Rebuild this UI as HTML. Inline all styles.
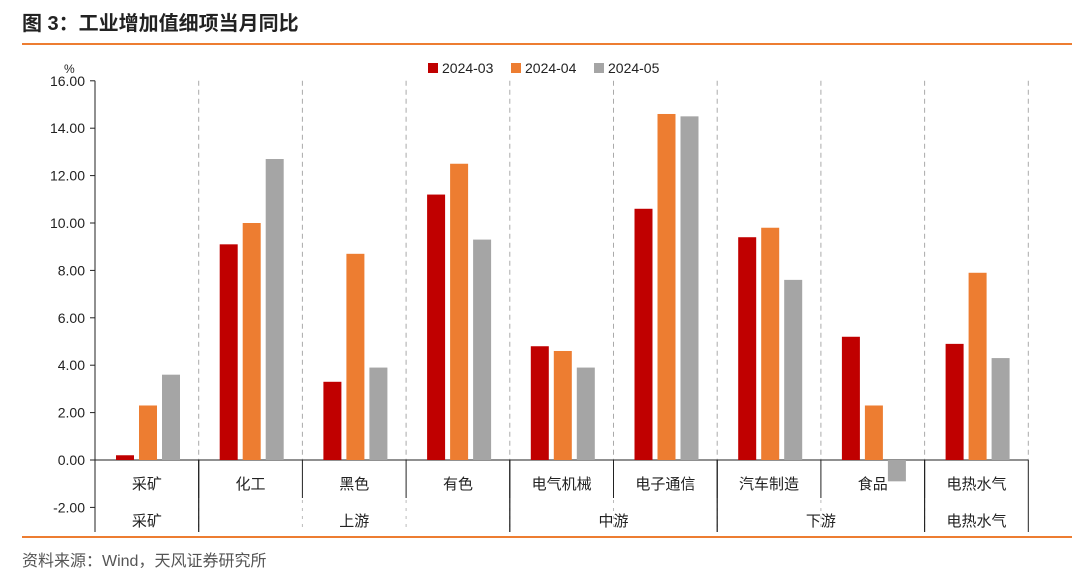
<!DOCTYPE html>
<html><head><meta charset="utf-8"><style>
body{margin:0;background:#fff;width:1080px;height:575px;overflow:hidden;font-family:"Liberation Sans","Noto Sans CJK SC",sans-serif}
</style></head><body>
<svg width="1080" height="575" style="position:absolute;left:0;top:0">
<text x="22" y="30" font-size="20" font-weight="bold" fill="#222">图 3：工业增加值细项当月同比</text>
<line x1="22" y1="44" x2="1072" y2="44" stroke="#ED7D31" stroke-width="2"/>
<line x1="22" y1="537" x2="1072" y2="537" stroke="#ED7D31" stroke-width="2"/>
<text x="22" y="566" font-size="16" fill="#555">资料来源：Wind，天风证券研究所</text>
<g id="plot"></g>
</svg>
<script>
const categories=["采矿","化工","黑色","有色","电气机械","电子通信","汽车制造","食品","电热水气"];
const groups=[["采矿",0,1],["上游",1,4],["中游",4,6],["下游",6,8],["电热水气",8,9]];
const seriesNames=["2024-03","2024-04","2024-05"];
const s2403=[0.2,9.1,3.3,11.2,4.8,10.6,9.4,5.2,4.9];
const s2404=[2.3,10.0,8.7,12.5,4.6,14.6,9.8,2.3,7.9];
const s2405=[3.6,12.7,3.9,9.3,3.9,14.5,7.6,-0.9,4.3];
const yTicks=[-2,0,2,4,6,8,10,12,14,16];
const colors=["#C00000","#ED7D31","#A5A5A5"];
const ns="http://www.w3.org/2000/svg",g=document.getElementById('plot');
const X0=95,GW=103.7,Y0=460,PX=23.7;
const y=v=>Y0-v*PX, xg=i=>X0+i*GW;
function el(t,a,txt){const e=document.createElementNS(ns,t);for(const k in a)e.setAttribute(k,a[k]);if(txt!=null)e.textContent=txt;g.appendChild(e);return e;}
el('line',{x1:X0,y1:y(16),x2:X0,y2:532,stroke:'#222','stroke-width':1});
yTicks.forEach(t=>{el('line',{x1:X0-5,y1:y(t),x2:X0,y2:y(t),stroke:'#222'});
 const e=el('text',{x:X0-10,y:y(t)+5,'font-size':14,'text-anchor':'end',fill:'#222'},t.toFixed(2));
 });
el('text',{x:64,y:73,'font-size':12,fill:'#222'},'%');
for(let i=1;i<=categories.length;i++){
 el('line',{x1:xg(i),y1:y(16),x2:xg(i),y2:460,stroke:'#aaa','stroke-dasharray':'5,4'});
}
el('line',{x1:X0,y1:Y0,x2:xg(9),y2:Y0,stroke:'#222'});
const series=[s2403,s2404,s2405];
series.forEach((s,k)=>s.forEach((v,i)=>{
 const x=xg(i)+21+k*23, top=Math.min(y(v),Y0), h=Math.abs(y(v)-Y0);
 const r=el('rect',{x:x,y:top,width:18,height:h,fill:colors[k]});
 
 
}));
categories.forEach((c,i)=>{
 const e=el('text',{x:xg(i)+GW/2,y:489,'font-size':15,'text-anchor':'middle',fill:'#222'},c);
 
 if(i>0){el('line',{x1:xg(i),y1:460,x2:xg(i),y2:498,stroke:'#222'});
  el('line',{x1:xg(i),y1:500,x2:xg(i),y2:532,stroke:'#bbb','stroke-dasharray':'3,5'});}
});
groups.forEach(([n,a,b])=>{
 el('line',{x1:xg(b),y1:460,x2:xg(b),y2:532,stroke:'#222'});
 el('line',{x1:xg(a),y1:460,x2:xg(a),y2:532,stroke:'#222'});
 const e=el('text',{x:(xg(a)+xg(b))/2,y:526,'font-size':15,'text-anchor':'middle',fill:'#222'},n);
 
});
const lx=[428,511,594];
seriesNames.forEach((n,k)=>{
 const r=el('rect',{x:lx[k],y:63,width:10,height:10,fill:colors[k]});
 
 const t=el('text',{x:lx[k]+14,y:73,'font-size':14,fill:'#222'},n);
 
});
</script>
</body></html>
